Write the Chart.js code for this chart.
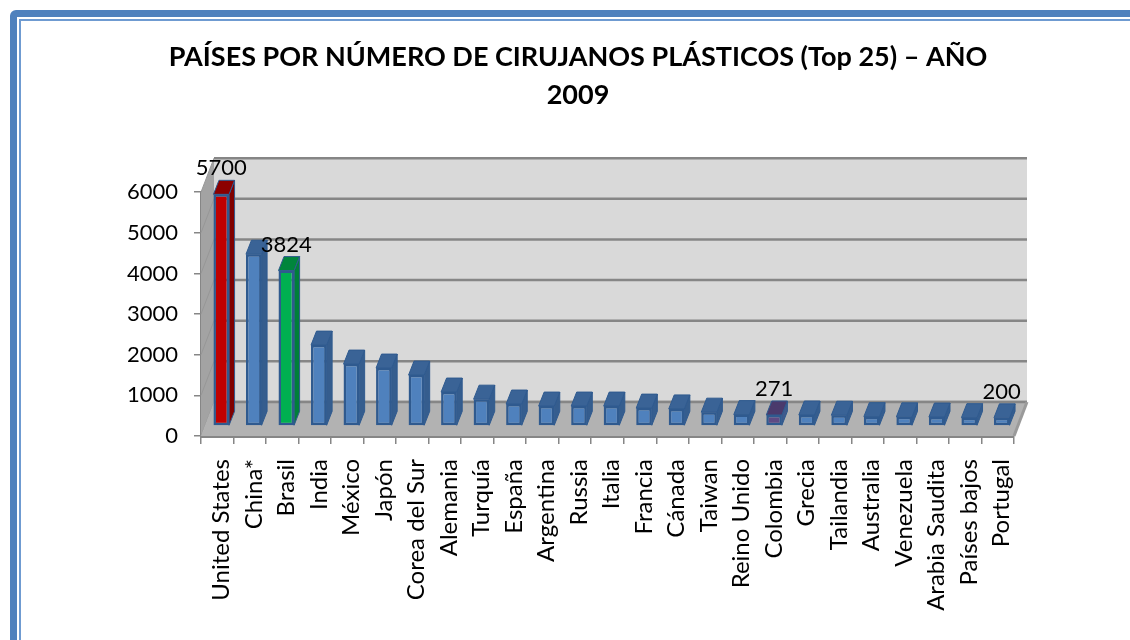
<!DOCTYPE html>
<html>
<head>
<meta charset="utf-8">
<style>
html,body{margin:0;padding:0;background:#fff;width:1130px;height:640px;overflow:hidden}
#outer{position:absolute;left:10px;top:10px;width:1200px;height:800px;box-sizing:border-box;border:7px solid #4f81bd;border-radius:6px}
#inner{position:absolute;left:19px;top:19px;width:1200px;height:800px;box-sizing:border-box;border:2.5px solid #6f9bd1}
canvas{position:absolute;left:0;top:0}
</style>
<script src="https://cdn.jsdelivr.net/npm/chart.js@4"></script>
</head>
<body>
<div id="outer"></div><div id="inner"></div>
<canvas id="c" width="1130" height="640"></canvas>
<script>
const titleLines = ["PAÍSES POR NÚMERO DE CIRUJANOS PLÁSTICOS (Top 25) – AÑO", "2009"];
const categories = ["United States","China*","Brasil","India","México","Japón","Corea del Sur","Alemania","Turquía","España","Argentina","Russia","Italia","Francia","Cánada","Taiwan","Reino Unido","Colombia","Grecia","Tailandia","Australia","Venezuela","Arabia Saudita","Países bajos","Portugal"];
const surgeons = [5700,4226,3824,1990,1523,1425,1253,835,660,540,490,490,490,440,420,340,280,271,270,265,230,225,220,205,200];
const labelled = ["United States","Brasil","Colombia","Portugal"];
const tickValues = [0,1000,2000,3000,4000,5000,6000];

const BLUE = {front:"#4f81bd", top:"#3a6396", side:"#355d8e"};
const SPECIAL = {
  "United States": {front:"#c00000", top:"#8c0000", side:"#800000"},
  "Brasil": {front:"#00b050", top:"#00853c", side:"#007f3a"},
  "Colombia": {front:"#5e4a84", top:"#4a3a6c", side:"#3f5a8c"}
};
const styleOf = name => SPECIAL[name] || BLUE;
const EDGE = "#2f5a8f", GRID = "#868686";
const WALL_DX = 13, WALL_DY = -34;
const BAR_SHIFT_X = 4, BAR_SHIFT_Y = -10, BAR_DX = 5.5, BAR_DY = -14;
const FONT = "Lato, Carlito, sans-serif";

function poly(ctx, pts, fill, stroke, lw){
  ctx.beginPath();
  pts.forEach((p,i)=> i ? ctx.lineTo(p[0],p[1]) : ctx.moveTo(p[0],p[1]));
  ctx.closePath();
  if(fill){ctx.fillStyle=fill;ctx.fill();}
  if(stroke){ctx.strokeStyle=stroke;ctx.lineWidth=lw||1;ctx.stroke();}
}

const scene3d = {
  id:"scene3d",
  afterLayout(chart){
    // the tick labels sit further left than the fitted axis box
    chart.scales.y.left -= 24;
  },
  beforeDatasetsDraw(chart){
    const {ctx, scales:{y}, chartArea:a} = chart;
    const T = y.getPixelForValue(y.max), B = y.getPixelForValue(0);
    const bl = a.left+WALL_DX, br = a.right+WALL_DX, bt = T+WALL_DY, bb = B+WALL_DY;
    ctx.save();
    poly(ctx,[[a.left,T],[bl,bt],[bl,bb],[a.left,B]],"#a3a3a3");
    poly(ctx,[[bl,bt],[br,bt],[br,bb],[bl,bb]],"#d9d9d9");
    tickValues.forEach(v=>{
      const py = y.getPixelForValue(v);
      ctx.strokeStyle="#979797"; ctx.lineWidth=1;
      ctx.beginPath(); ctx.moveTo(a.left,py); ctx.lineTo(bl,py+WALL_DY); ctx.stroke();
      ctx.strokeStyle=GRID; ctx.lineWidth=2.5;
      ctx.beginPath(); ctx.moveTo(bl,py+WALL_DY); ctx.lineTo(br,py+WALL_DY); ctx.stroke();
    });
    poly(ctx,[[a.left,B],[bl,bb],[br,bb],[a.right,B]],"#b2b2b2");
    ctx.strokeStyle=GRID; ctx.lineWidth=2.5;
    ctx.beginPath(); ctx.moveTo(bl,bb); ctx.lineTo(br,bb); ctx.stroke();
    ctx.strokeStyle="#9a9a9a"; ctx.lineWidth=3;
    ctx.beginPath(); ctx.moveTo(br,bb); ctx.lineTo(a.right,B); ctx.stroke();
    ctx.restore();

    ctx.save();
    ctx.translate(BAR_SHIFT_X,BAR_SHIFT_Y);
    chart.getDatasetMeta(0).data.forEach((bar,i)=>{
      const s = styleOf(categories[i]);
      const w = bar.width/2, l = bar.x-w, r = bar.x+w, t = bar.y, b = bar.base;
      poly(ctx,[[r,t],[r+BAR_DX,t+BAR_DY],[r+BAR_DX,b+BAR_DY],[r,b]],s.side,EDGE,1);
      poly(ctx,[[l,t],[l+BAR_DX,t+BAR_DY],[r+BAR_DX,t+BAR_DY],[r,t]],s.top,EDGE,1);
    });
  },
  afterDatasetsDraw(chart){
    const {ctx} = chart;
    ctx.restore();
    ctx.save();
    ctx.font = "22px "+FONT; ctx.fillStyle="#000"; ctx.textAlign="center"; ctx.textBaseline="middle";
    chart.getDatasetMeta(0).data.forEach((bar,i)=>{
      if(labelled.includes(categories[i])){
        ctx.fillText(String(surgeons[i]), bar.x+BAR_SHIFT_X, bar.y+BAR_SHIFT_Y-26);
      }
    });
    ctx.restore();
  }
};

new Chart(document.getElementById("c"),{
  type:"bar",
  data:{labels:categories,datasets:[{
    data:surgeons,
    clip:false,
    backgroundColor:c=>styleOf(categories[c.dataIndex]).front,
    borderColor:EDGE,
    borderWidth:2.5,
    borderSkipped:false,
    categoryPercentage:1,
    barPercentage:0.48
  }]},
  options:{
    responsive:false,
    animation:false,
    devicePixelRatio:1,
    layout:{padding:{left:142,right:116,top:38,bottom:0}},
    plugins:{
      legend:{display:false},
      tooltip:{enabled:false},
      title:{display:true,text:titleLines,color:"#000",
        font:{family:FONT,size:27,weight:"bold",lineHeight:1.41},
        padding:{top:0,bottom:78}}
    },
    scales:{
      x:{
        grid:{display:true,offset:true,drawOnChartArea:false,drawTicks:true,tickLength:8,color:GRID,lineWidth:1.5},
        border:{display:true,color:GRID,width:3},
        ticks:{autoSkip:false,minRotation:90,maxRotation:90,color:"#000",padding:15,labelOffset:4,
          font:{family:FONT,size:24}},
        afterFit(s){s.height=204;}
      },
      y:{
        min:0,max:6000,
        grid:{display:true,drawOnChartArea:false,drawTicks:true,tickLength:7,color:GRID,lineWidth:1.5},
        border:{display:true,color:GRID,width:2},
        ticks:{stepSize:1000,color:"#000",padding:16,font:{family:FONT,size:22},callback:v=>String(v)},
        afterFit(s){s.width=59;}
      }
    }
  },
  plugins:[scene3d]
});
</script>
</body>
</html>
